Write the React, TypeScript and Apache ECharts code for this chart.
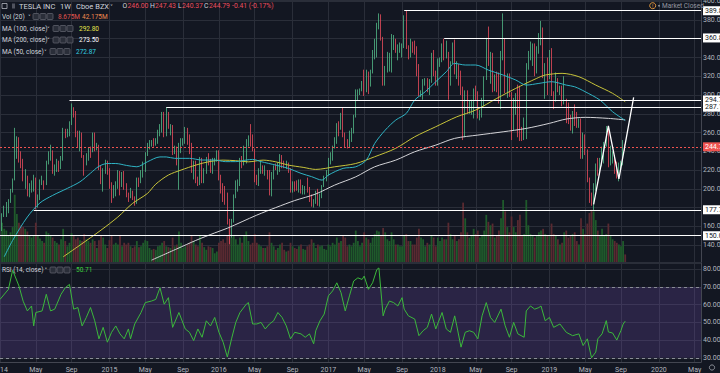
import React, { useEffect, useRef } from 'react';
import * as echarts from 'echarts';

// ---------- categories: weekly bars starting Monday 2014-01-06 ----------
const FIRST_WEEK_UTC = Date.UTC(2014, 0, 6);
const WEEK_COUNT = 334;
const categories: string[] = [];
for (let i = 0; i < WEEK_COUNT; i++) {
  categories.push(new Date(FIRST_WEEK_UTC + i * 7 * 86400000).toISOString().slice(0, 10));
}
const tickMonths = [1, 5, 9];
const tickMonthNames: Record<number, string> = { 5: 'May', 9: 'Sep' };
// price ticks hidden behind the price-level badges in the reference
const hiddenPriceTicks = [360, 180];

// ---------- weekly candles [open, close, low, high]; index 0 (2014-01-06) empty ----------
const candles2014 = [
  [160, 171, 155, 174], [171, 175, 170, 182], [174, 181, 170, 186], [181, 186, 174, 189],
  [187, 198, 185, 200], [198, 210, 196, 211], [210, 245, 209, 265], [245, 253, 232, 256],
  [253, 231, 228, 255], [231, 229, 222, 240], [229, 212, 208, 232], [212, 212, 200, 221],
  [212, 198, 192, 214], [198, 198, 191, 206], [198, 204, 196, 209], [204, 211, 197, 215],
  [211, 182, 178, 212], [182, 190, 180, 194], [190, 208, 188, 210], [208, 208, 204, 214],
  [208, 206, 199, 209], [206, 228, 204, 230], [228, 235, 226, 240], [235, 240, 230, 247],
  [240, 218, 216, 241], [218, 222, 214, 226], [222, 226, 218, 232], [226, 224, 218, 230],
  [224, 231, 221, 235], [231, 262, 230, 265], [262, 259, 254, 264], [259, 260, 255, 264],
  [260, 270, 256, 272], [270, 287, 268, 291], [287, 279, 276, 287], [279, 259, 255, 283],
  [259, 247, 244, 262], [247, 255, 240, 262], [255, 236, 233, 260], [236, 227, 214, 236],
  [227, 235, 225, 238], [235, 242, 230, 244], [242, 241, 233, 245], [241, 258, 239, 260],
  [258, 243, 240, 260], [243, 245, 241, 249], [245, 223, 220, 247], [223, 207, 205, 225],
  [207, 219, 197, 222], [219, 228, 216, 231], [228, 220, 215, 230],
];
const candles2015 = [
  [220, 206, 200, 222], [206, 192, 185, 207], [192, 201, 190, 204], [201, 204, 192, 208],
  [204, 217, 200, 220], [217, 203, 193, 219], [203, 217, 202, 218], [217, 203, 199, 219],
  [203, 193, 191, 206], [193, 192, 186, 196], [192, 196, 190, 201], [196, 190, 188, 198],
  [190, 186, 182, 192], [186, 210, 184, 212], [210, 207, 202, 212], [207, 218, 206, 220],
  [218, 226, 212, 229], [226, 237, 218, 239], [237, 248, 235, 249], [248, 248, 242, 252],
  [248, 251, 245, 252], [251, 250, 245, 254], [250, 250, 246, 254], [250, 262, 248, 263],
  [262, 267, 256, 269], [267, 280, 260, 282], [280, 259, 255, 282], [259, 274, 256, 287],
  [274, 266, 264, 282], [266, 266, 257, 269], [266, 242, 236, 268], [242, 243, 237, 246],
  [243, 230, 225, 245], [230, 248, 199, 249], [248, 250, 238, 254], [250, 250, 246, 254],
  [250, 262, 248, 266], [262, 256, 247, 265], [256, 247, 237, 258], [247, 220, 217, 249],
  [220, 227, 210, 230], [227, 211, 206, 230], [211, 206, 203, 213], [206, 232, 204, 234],
  [232, 207, 206, 233], [207, 221, 206, 222], [221, 232, 216, 234], [232, 230, 225, 238],
  [230, 219, 217, 232], [219, 230, 216, 233], [230, 230, 225, 233], [230, 240, 229, 241],
];
const candles2016 = [
  [240, 212, 209, 241], [212, 204, 195, 215], [204, 202, 186, 206], [202, 191, 183, 203],
  [191, 162, 162, 196], [162, 151, 141, 168], [151, 166, 148, 168], [166, 192, 164, 194],
  [192, 205, 190, 209], [205, 205, 197, 210], [205, 232, 203, 233], [232, 227, 222, 235],
  [227, 238, 225, 246], [238, 250, 227, 253], [250, 254, 245, 257], [254, 253, 245, 269],
  [253, 241, 240, 258], [241, 212, 207, 243], [212, 208, 204, 215], [208, 220, 203, 222],
  [220, 224, 216, 229], [224, 218, 216, 225], [218, 218, 214, 225], [218, 215, 210, 220],
  [215, 193, 193, 220], [193, 216, 192, 218], [216, 225, 210, 225], [225, 222, 220, 227],
  [222, 222, 215, 228], [222, 234, 218, 237], [234, 226, 222, 236], [226, 225, 222, 230],
  [225, 226, 221, 230], [226, 220, 217, 228], [220, 198, 196, 222], [198, 206, 196, 208],
  [206, 205, 197, 208], [205, 200, 198, 209], [200, 204, 196, 210], [204, 196, 195, 210],
  [196, 196, 194, 204], [196, 200, 194, 203], [200, 198, 196, 212], [198, 190, 186, 202],
  [190, 182, 181, 194], [182, 185, 180, 189], [185, 197, 184, 198], [197, 182, 182, 200],
  [182, 193, 181, 195], [193, 203, 190, 204], [203, 213, 202, 214], [213, 214, 208, 220],
];
const candles2017 = [
  [214, 229, 214, 233], [229, 237, 226, 239], [237, 245, 230, 246], [245, 252, 243, 255],
  [252, 269, 248, 270], [269, 268, 256, 272], [268, 273, 263, 281], [273, 258, 255, 287],
  [258, 251, 244, 260], [251, 246, 243, 253], [246, 256, 244, 262], [256, 263, 250, 265],
  [263, 278, 259, 279], [278, 302, 276, 306], [302, 305, 294, 306], [305, 305, 300, 307],
  [305, 314, 304, 315], [314, 309, 299, 327], [309, 324, 303, 327], [324, 311, 301, 325],
  [311, 325, 309, 327], [325, 347, 323, 348], [347, 357, 338, 360], [357, 371, 340, 377],
  [371, 383, 370, 387], [383, 361, 358, 386], [361, 313, 310, 362], [313, 327, 310, 331],
  [327, 329, 324, 346], [329, 335, 325, 345], [335, 357, 324, 365], [357, 357, 348, 364],
  [357, 348, 345, 360], [348, 349, 337, 354], [349, 350, 345, 356], [350, 350, 340, 355],
  [350, 379, 350, 385], [379, 351, 349, 390], [351, 341, 338, 353], [341, 356, 340, 360],
  [356, 355, 345, 357], [355, 345, 343, 358], [345, 331, 320, 352], [331, 302, 299, 333],
  [302, 303, 298, 305], [303, 315, 295, 317], [315, 316, 310, 318], [316, 306, 303, 318],
  [306, 315, 300, 317], [315, 344, 313, 345], [344, 325, 320, 348], [325, 311, 310, 326],
];
const candles2018 = [
  [311, 337, 310, 339], [337, 337, 330, 340], [337, 351, 335, 355], [351, 342, 337, 360],
  [342, 343, 339, 358], [343, 310, 295, 346], [310, 335, 310, 336], [335, 350, 333, 356],
  [350, 327, 322, 359], [327, 327, 317, 336], [327, 321, 310, 333], [321, 302, 300, 326],
  [302, 267, 252, 309], [267, 300, 255, 305], [300, 287, 280, 305], [287, 290, 280, 294],
  [290, 294, 279, 295], [294, 302, 275, 307], [302, 301, 294, 310], [301, 277, 275, 304],
  [277, 278, 273, 284], [278, 291, 276, 297], [291, 318, 288, 320], [318, 358, 316, 361],
  [358, 333, 331, 373], [333, 342, 312, 346], [342, 309, 303, 345], [309, 318, 304, 322],
  [318, 314, 303, 325], [314, 297, 291, 324], [297, 341, 285, 347], [341, 355, 337, 387],
  [355, 305, 302, 360], [305, 322, 297, 323], [322, 301, 298, 323], [301, 263, 252, 303],
  [263, 295, 262, 297], [295, 299, 279, 302], [299, 265, 255, 311], [265, 262, 251, 310],
  [262, 259, 251, 266], [259, 260, 252, 276], [260, 330, 253, 334], [330, 346, 327, 347],
  [346, 351, 337, 357], [351, 354, 331, 355], [354, 326, 320, 355], [326, 350, 323, 352],
  [350, 358, 344, 366], [358, 366, 353, 379], [366, 320, 318, 372], [320, 333, 296, 334],
  [333, 317, 300, 340],
];
const candles2019 = [
  [317, 347, 317, 348], [347, 302, 299, 350], [302, 297, 285, 304], [297, 312, 293, 324],
  [312, 305, 303, 318], [305, 307, 300, 310], [307, 294, 288, 310], [294, 294, 290, 320],
  [294, 284, 270, 296], [284, 275, 269, 292], [275, 264, 262, 279], [264, 280, 259, 283],
  [280, 274, 267, 290], [274, 268, 265, 282], [268, 273, 265, 275], [273, 235, 232, 275],
  [235, 256, 232, 260], [256, 239, 236, 258], [239, 211, 207, 242], [211, 190, 185, 212],
  [190, 185, 182, 196], [185, 204, 177, 206], [204, 225, 198, 227], [225, 221, 214, 233],
  [221, 224, 216, 233], [224, 234, 224, 245], [234, 245, 227, 250], [245, 258, 245, 267],
  [258, 228, 223, 265], [228, 234, 225, 246], [234, 235, 227, 240], [235, 219, 216, 236],
  [219, 211, 211, 229], [211, 225, 208, 228], [225, 227, 221, 230], [227, 247, 225, 252],
  [246, 244.79, 240.37, 247.43],
];

// ---------- weekly volume (millions) ----------
const volume2014 = [45, 38, 36, 30, 34, 40, 77, 55, 45, 42, 40, 38, 35, 30, 28, 30, 45, 30, 27, 24, 22, 35, 33, 30, 28, 24, 22, 20, 26, 38, 24, 18, 22, 33, 30, 26, 28, 25, 24, 32, 26, 24, 22, 26, 24, 16, 25, 30, 28, 20, 16];
const volume2015 = [25, 30, 20, 22, 20, 30, 18, 22, 20, 22, 18, 16, 18, 24, 17, 18, 22, 25, 24, 16, 14, 15, 14, 18, 19, 22, 24, 18, 17, 16, 28, 18, 20, 35, 22, 16, 18, 20, 22, 30, 24, 20, 18, 30, 22, 17, 14, 18, 17, 16, 10, 12];
const volume2016 = [22, 24, 26, 22, 30, 39, 28, 30, 26, 20, 28, 22, 30, 35, 24, 20, 22, 32, 22, 20, 18, 16, 16, 18, 34, 22, 18, 14, 16, 20, 22, 14, 12, 13, 22, 18, 16, 15, 18, 20, 15, 14, 18, 20, 26, 22, 16, 20, 18, 19, 15, 14];
const volume2017 = [20, 18, 22, 20, 28, 22, 24, 30, 28, 18, 20, 18, 22, 36, 24, 18, 22, 34, 28, 26, 22, 28, 32, 36, 35, 30, 39, 34, 26, 24, 34, 26, 20, 20, 18, 18, 30, 32, 24, 24, 20, 20, 28, 38, 28, 26, 18, 22, 20, 30, 28, 18];
const volume2018 = [28, 24, 28, 26, 26, 45, 32, 26, 30, 24, 26, 34, 68, 50, 34, 28, 30, 38, 32, 36, 28, 30, 36, 54, 46, 42, 44, 28, 30, 36, 50, 71, 58, 40, 34, 52, 40, 34, 48, 54, 30, 32, 71, 42, 32, 30, 28, 30, 34, 36, 38, 32, 30];
const volume2019 = [30, 44, 32, 30, 26, 20, 22, 34, 36, 28, 30, 32, 34, 24, 20, 50, 38, 32, 44, 56, 60, 58, 48, 36, 30, 38, 30, 32, 44, 30, 26, 24, 22, 20, 18, 24, 8.675];

// ---------- moving averages [weekIndex, value] ----------
const ma50Points = [[2, 127.5], [6, 145], [13, 170], [19, 185], [25, 193], [32, 200.5], [38, 207.5], [43, 216.7], [47, 224], [51, 227], [55, 227], [60, 225], [65, 223.5], [70, 228.8], [76, 234], [79, 234], [83, 232.5], [90, 232.5], [96, 230.7], [102, 230.7], [107, 229], [112, 229], [117, 230.7], [120, 231.4], [124, 229], [131, 225.3], [137, 221.8], [143, 216.5], [148, 213], [153, 209.3], [156, 214.7], [163, 221.8], [169, 223.5], [174, 230.6], [178, 248.4], [183, 262.6], [188, 273.3], [193, 280.4], [197, 294.6], [202, 303.5], [207, 314.2], [212, 324.8], [216, 333.7], [221, 332], [226, 332], [232, 326.6], [239, 321.3], [245, 316], [250, 310.6], [256, 312.4], [262, 314.2], [269, 310.6], [273, 308.8], [278, 303.5], [285, 294.6], [291, 282.2], [297, 272.87]];
const ma100Points = [[30, 127.5], [38, 140], [48, 156], [56, 170], [63, 184.5], [70, 195], [74, 205], [80, 214.7], [86, 220], [93, 225.3], [99, 228.8], [106, 230.6], [112, 230], [118, 228.8], [125, 230.6], [131, 228.8], [137, 225.3], [144, 222.9], [150, 220.7], [159, 223.5], [169, 227], [178, 234.2], [188, 243.2], [197, 255.5], [207, 266.2], [217, 276.8], [226, 284], [236, 296.4], [245, 307.1], [255, 317.8], [259, 321.3], [267, 323.1], [275, 319.5], [283, 310.6], [291, 301.8], [297, 292.8]];
const ma200Points = [[72, 124], [84, 136], [93, 145], [102, 153], [108, 158], [115, 165], [122, 172], [131, 180], [140, 187.5], [150, 194.5], [159, 204], [169, 212.8], [178, 223.5], [188, 230.6], [197, 239.5], [207, 246.6], [216, 253.8], [227, 257.3], [239, 260.8], [250, 264.4], [261, 269.8], [269, 274.4], [278, 276.2], [289, 275.1], [297, 273.5]];

// ---------- RSI(14) [weekIndex, value] ----------
const rsiPoints = [[0, 63], [4, 68.7], [6, 79.5], [9, 70.6], [11, 62], [13, 56.5], [15, 59.3], [16, 48], [17, 55.6], [20, 56.5], [22, 65.9], [24, 56.5], [26, 57.5], [29, 65.9], [31, 69.6], [33, 71.5], [35, 57.5], [37, 58.4], [39, 48], [41, 52.8], [43, 58.4], [45, 50.9], [47, 40.7], [49, 47.2], [51, 38.8], [53, 44.4], [55, 48], [57, 43.5], [59, 40.7], [61, 46.3], [62, 40.7], [64, 49.1], [67, 55.6], [69, 61.2], [72, 62.1], [74, 63], [76, 69.6], [78, 60.3], [80, 64], [82, 47.2], [85, 55.6], [88, 46.3], [90, 44.4], [92, 39.7], [94, 46.3], [96, 41.6], [98, 50.9], [100, 48], [102, 52.8], [104, 44.4], [106, 38.8], [108, 30.4], [110, 40.7], [112, 50], [114, 55.6], [117, 60.3], [118, 61.2], [120, 49.1], [122, 49.1], [124, 50], [126, 46.3], [128, 49.1], [130, 50.9], [132, 55.6], [134, 52.8], [136, 48], [138, 40.7], [140, 44.4], [143, 43.5], [145, 41.6], [147, 43.5], [149, 37.9], [150, 45.3], [152, 50.9], [154, 54.7], [156, 65], [158, 67.8], [160, 72.4], [162, 66.8], [164, 56.5], [166, 65], [168, 73.4], [170, 75.2], [172, 74.3], [173, 76.2], [175, 68.7], [177, 72.4], [179, 79.9], [180, 80.8], [182, 53.7], [183, 57.5], [185, 62.1], [187, 61.2], [189, 59.3], [191, 64], [192, 57.5], [194, 53.7], [197, 51.9], [199, 42.5], [201, 45.3], [203, 47.2], [205, 54.7], [207, 46.3], [210, 55.6], [212, 46.3], [214, 44.4], [216, 53.7], [217, 48], [219, 36], [221, 44.4], [223, 45.3], [225, 44.4], [227, 40.7], [229, 53.7], [231, 61.2], [233, 52.8], [235, 50], [238, 57.5], [240, 48], [242, 41.6], [244, 50], [246, 43.5], [249, 41.6], [250, 56.5], [252, 59.3], [254, 57.5], [256, 58.4], [257, 59.3], [259, 50.9], [261, 52.8], [263, 47.2], [266, 49.1], [269, 44.4], [272, 42.5], [275, 43.5], [277, 36.9], [279, 40.7], [281, 30], [283, 33.2], [284, 40.7], [286, 43.5], [288, 51], [289, 44.6], [291, 44], [293, 40], [295, 45.5], [296, 49], [297, 50.71]];

// ---------- drawings ----------
const levelLines = [
  { value: 389.85, fromWeek: 192 },
  { value: 360.84, fromWeek: 211 },
  { value: 294.72, fromWeek: 33 },
  { value: 287.14, fromWeek: 79 },
  { value: 177.7, fromWeek: 16 },
  { value: 150.0, fromWeek: 0 },
];
const lastPrice = 244.79;
const zigzagPoints = [[282, 183.5], [289, 267], [294, 210.5], [301, 297.5]];

const UP = '#53b987';
const DOWN = '#eb4d5c';
const BG = '#131722';
const GRIDC = '#2a2e39';
const TXT = '#b2b5be';
const LEG = '#d1d4dc';
const FONT = 'Roboto, "DejaVu Sans", sans-serif';

function monthOf(i: number) {
  return Number(categories[i].slice(5, 7));
}
function isTick(i: number) {
  const m = monthOf(i);
  if (tickMonths.indexOf(m) < 0) return false;
  if (i === 0) return true;
  return monthOf(i - 1) !== m;
}
function tickLabel(v: string) {
  const m = Number(v.slice(5, 7));
  return m === 1 ? v.slice(0, 4) : tickMonthNames[m] || '';
}

function txt(text: string, x: number, y: number, fill: string, size = 6.5): any {
  return {
    type: 'text', x, y, silent: true, z: 100,
    style: { text, fill, fontSize: size, fontFamily: FONT, align: 'left', verticalAlign: 'middle', textAlign: 'left', textVerticalAlign: 'middle' },
  };
}
function icons(x: number, y: number): any[] {
  return [0, 1, 2].map((k) => ({
    type: 'rect', silent: true, z: 100,
    shape: { x: x + k * 7, y: y - 3, width: 6, height: 6, r: 1 },
    style: { fill: '#2a2e39', stroke: '#5d606b', lineWidth: 0.8 },
  }));
}

export default function App() {
  const ref = useRef<HTMLDivElement>(null);
  useEffect(() => {
    const chart = echarts.init(ref.current!, null, { renderer: 'svg' });
    const allCandles: any[] = ['-', ...candles2014, ...candles2015, ...candles2016, ...candles2017, ...candles2018, ...candles2019];
    const allVol = [null, ...volume2014, ...volume2015, ...volume2016, ...volume2017, ...volume2018, ...volume2019];
    const volData = allVol.map((v, i) => {
      if (v == null) return '-';
      const c = allCandles[i];
      const up = c[1] >= c[0];
      return { value: v, itemStyle: { color: up ? '#1f5a2b' : '#5a2a31' } };
    });
    const last = WEEK_COUNT - 1;
    const levelData = levelLines.map((l) => [
      { name: l.value.toFixed(2), coord: [l.fromWeek, l.value] },
      { name: l.value.toFixed(2), coord: [last, l.value] },
    ]);

    const graphic: any[] = [
      { type: 'rect', silent: true, z: 100, shape: { x: 2, y: 3.5, width: 5, height: 5 }, style: { fill: 'none', stroke: TXT, lineWidth: 0.8 } },
      { type: 'rect', silent: true, z: 100, shape: { x: 12, y: 3.5, width: 3, height: 5 }, style: { fill: '#50535e' } },
      txt('TESLA INC', 19, 6, LEG, 7.5),
      txt('1W', 60, 6, LEG, 7.5),
      txt('Cboe BZX', 76, 6, LEG, 7.5),
      txt('˅', 110, 6, LEG, 6),
      txt('O', 122.5, 6, LEG, 6.8), txt('246.00', 127.5, 6, DOWN, 6.8),
      txt('H', 150, 6, LEG, 6.8), txt('247.43', 155, 6, DOWN, 6.8),
      txt('L', 178, 6, LEG, 6.8), txt('240.37', 182, 6, DOWN, 6.8),
      txt('C', 204, 6, LEG, 6.8), txt('244.79', 209, 6, DOWN, 6.8),
      txt('-0.41 (-0.17%)', 232, 6, DOWN, 6.8),
      txt('Vol (20)', 2, 16.5, LEG), txt('˅', 28, 16.5, LEG, 5.5), ...icons(33, 16.5),
      txt('8.675M', 58, 16.5, '#e0554e'), txt('42.175M', 82, 16.5, '#f08a50'),
      txt('MA (100, close)', 2, 28.5, LEG), txt('˅', 47, 28.5, LEG, 5.5), ...icons(53, 28.5),
      txt('292.80', 79, 28.5, '#e5e54a'),
      txt('MA (200, close)', 2, 40, LEG), txt('˅', 47, 40, LEG, 5.5), ...icons(53, 40),
      txt('273.50', 79, 40, '#ffffff'),
      txt('MA (50, close)', 2, 51.5, LEG), txt('˅', 44, 51.5, LEG, 5.5), ...icons(50, 51.5),
      txt('272.87', 76, 51.5, '#35cfe0'),
      txt('RSI (14, close)', 2, 270, LEG), txt('˅', 44.5, 270, LEG, 5.5), ...icons(50, 270),
      txt('50.71', 76, 270, '#3fcf3f'),
      { type: 'circle', silent: true, z: 100, shape: { cx: 652.7, cy: 5.7, r: 3 }, style: { fill: 'none', stroke: '#f0a040', lineWidth: 0.9 } },
      txt('!', 652, 5.9, '#f0a040', 5),
      { type: 'circle', silent: true, z: 100, shape: { cx: 659, cy: 5.7, r: 0.9 }, style: { fill: '#9598a1' } },
      txt('Market Closed', 662, 5.7, '#9598a1', 6.5),
      { type: 'circle', silent: true, z: 100, shape: { cx: 712, cy: 367.5, r: 2.6 }, style: { fill: 'none', stroke: '#9598a1', lineWidth: 0.9 } },
    ];

    const option: any = {
      animation: false,
      backgroundColor: BG,
      textStyle: { fontFamily: FONT },
      graphic,
      grid: [
        { left: 0, right: 19, top: 0, height: 262, containLabel: false, outerBoundsMode: 'none' },
        { left: 0, right: 19, top: 263, height: 99, containLabel: false, outerBoundsMode: 'none' },
      ],
      xAxis: [
        {
          type: 'category', gridIndex: 0, data: categories, boundaryGap: false,
          axisLine: { show: false }, axisTick: { show: false }, axisLabel: { show: false },
          splitLine: { show: true, interval: (i: number) => isTick(i), lineStyle: { color: GRIDC, width: 1 } },
        },
        {
          type: 'category', gridIndex: 1, data: categories, boundaryGap: false,
          axisLine: { show: true, lineStyle: { color: '#434651' } }, axisTick: { show: false },
          axisLabel: { show: true, interval: (i: number) => isTick(i), formatter: (v: string) => tickLabel(v), color: TXT, fontSize: 7, margin: 4, fontFamily: FONT },
          splitLine: { show: true, interval: (i: number) => isTick(i), lineStyle: { color: GRIDC, width: 1 } },
        },
      ],
      yAxis: [
        {
          type: 'value', gridIndex: 0, position: 'right', min: 122, max: 401.3, splitNumber: 14,
          axisLine: { show: true, lineStyle: { color: '#434651' } }, axisTick: { show: false },
          axisLabel: {
            color: TXT, fontSize: 7, margin: 2, fontFamily: FONT, showMinLabel: false, showMaxLabel: false,
            formatter: (v: number) => (hiddenPriceTicks.indexOf(Math.round(v)) >= 0 ? '' : v.toFixed(2)),
          },
          splitLine: { show: true, lineStyle: { color: GRIDC, width: 1 } },
        },
        { type: 'value', gridIndex: 0, min: 0, max: 300, show: false, splitLine: { show: false } },
        {
          type: 'value', gridIndex: 1, position: 'right', min: 27.6, max: 83.6, splitNumber: 5,
          axisLine: { show: true, lineStyle: { color: '#434651' } }, axisTick: { show: false },
          axisLabel: { color: TXT, fontSize: 7, margin: 2, fontFamily: FONT, formatter: (v: number) => v.toFixed(2), showMinLabel: false, showMaxLabel: false },
          splitLine: { show: true, lineStyle: { color: GRIDC, width: 1 } },
        },
      ],
      series: [
        {
          type: 'bar', xAxisIndex: 0, yAxisIndex: 1, data: volData, barCategoryGap: '15%', silent: true, z: 1,
        },
        {
          type: 'candlestick', xAxisIndex: 0, yAxisIndex: 0, data: allCandles, barWidth: '58%', silent: true, z: 3,
          itemStyle: { color: UP, color0: DOWN, borderColor: UP, borderColor0: DOWN, borderWidth: 0.8 },
          markLine: {
            silent: true, symbol: ['none', 'none'], animation: false,
            lineStyle: { color: '#ffffff', width: 1, type: 'solid' },
            label: {
              show: true, position: 'end', distance: 2, formatter: (p: any) => p.name,
              backgroundColor: '#ffffff', color: '#131722', fontSize: 7, fontFamily: FONT, padding: [1, 2, 1, 2],
            },
            emphasis: { disabled: true },
            data: levelData,
          },
        },
        { type: 'line', xAxisIndex: 0, yAxisIndex: 0, data: ma100Points, symbol: 'none', smooth: 0.3, silent: true, z: 4, lineStyle: { color: '#c8c43a', width: 1 } },
        { type: 'line', xAxisIndex: 0, yAxisIndex: 0, data: ma200Points, symbol: 'none', smooth: 0.3, silent: true, z: 4, lineStyle: { color: '#d4d4d8', width: 1 } },
        { type: 'line', xAxisIndex: 0, yAxisIndex: 0, data: ma50Points, symbol: 'none', smooth: 0.3, silent: true, z: 4, lineStyle: { color: '#2fb3c4', width: 1 } },
        {
          type: 'line', xAxisIndex: 0, yAxisIndex: 0, data: zigzagPoints, symbol: 'none', silent: true, z: 6,
          lineStyle: { color: '#ffffff', width: 1.3 },
          markLine: {
            silent: true, symbol: ['none', 'none'], animation: false,
            lineStyle: { color: '#ef5350', width: 1, type: [2, 2] },
            label: {
              show: true, position: 'end', distance: 2, formatter: lastPrice.toFixed(2),
              backgroundColor: '#ef5350', color: '#ffffff', fontSize: 7, fontFamily: FONT, padding: [1, 2, 1, 2],
            },
            emphasis: { disabled: true },
            data: [[{ coord: [0, lastPrice] }, { coord: [last, lastPrice] }]],
          },
        },
        {
          type: 'line', xAxisIndex: 1, yAxisIndex: 2, data: rsiPoints, symbol: 'none', silent: true, z: 5,
          lineStyle: { color: '#3cb83c', width: 1 },
          markArea: {
            silent: true, label: { show: false },
            itemStyle: { color: 'rgba(126,87,194,0.22)' },
            data: [[{ yAxis: 30 }, { yAxis: 70 }]],
          },
          markLine: {
            silent: true, symbol: ['none', 'none'], animation: false, label: { show: false },
            lineStyle: { color: '#8a8d96', width: 1, type: [3, 3] },
            emphasis: { disabled: true },
            data: [{ yAxis: 70 }, { yAxis: 30 }],
          },
        },
      ],
    };
    chart.setOption(option);
    return () => chart.dispose();
  }, []);
  return <div ref={ref} style={{ position: 'fixed', left: 0, top: 0, width: 720, height: 373 }} />;
}
